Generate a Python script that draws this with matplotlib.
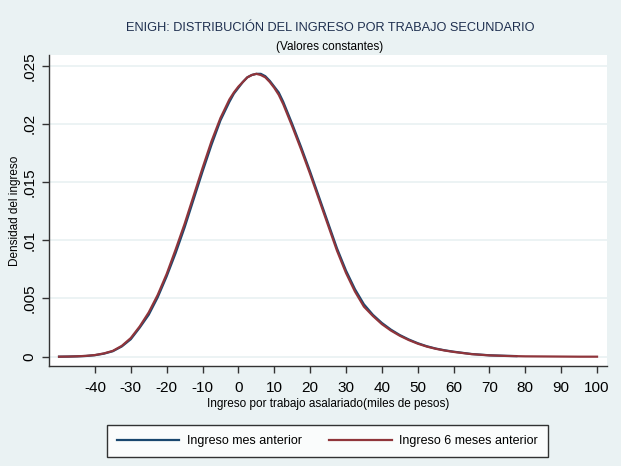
import matplotlib
matplotlib.use("Agg")
import matplotlib.pyplot as plt

plt.rcParams['font.family'] = ['Liberation Sans', 'DejaVu Sans']

# ---- data ----
x_red = [-50, -47.5, -45, -42.5, -40, -37.5, -35, -32.5, -30, -27.5, -25, -22.5, -20,
         -17.5, -15, -12.5, -10, -7.5, -5, -2.5, -1.25, 0, 1.25, 2.5, 3.75, 5, 6.25,
         7.5, 8.75, 10, 11.25, 12.5, 15, 17.5,
         20, 22.5, 25, 27.5, 30, 32.5, 35, 37.5, 40, 42.5, 45, 47.5, 50, 52.5, 55,
         57.5, 60, 65, 70, 75, 80, 85, 90, 95, 100]
y_red = [0.0, 0.00001, 0.00003, 0.00007, 0.00014, 0.00028, 0.0005, 0.00093, 0.0016,
         0.0026, 0.0038, 0.0053, 0.0071, 0.0092, 0.0114, 0.0138, 0.0162, 0.0185,
         0.0205, 0.0221, 0.0227, 0.0232, 0.0236, 0.0240, 0.0242, 0.0243, 0.0242,
         0.0240, 0.0236, 0.0231, 0.0225, 0.0217, 0.0198,
         0.0178, 0.0157, 0.0135, 0.0113, 0.0091, 0.0072, 0.0056, 0.0043, 0.0035,
         0.0028, 0.00225, 0.0018, 0.00143, 0.00112, 0.00087, 0.00068, 0.00053, 0.00041,
         0.00022, 0.00011, 0.00006, 0.00003, 0.00002, 0.00001, 0.0, 0.0]

x_blue = [-50, -47.5, -45, -42.5, -40, -37.5, -35, -32.5, -30, -27.5, -25, -22.5, -20,
          -17.5, -15, -12.5, -10, -7.5, -5, -2.5, -1.25, 0, 1.25, 2.5, 3.75, 5, 6.25,
          7.5, 8.75, 10, 11.25, 12.5, 15, 17.5,
          20, 22.5, 25, 27.5, 30, 32.5, 35, 37.5, 40, 42.5, 45, 47.5, 50, 52.5, 55,
          57.5, 60, 65, 70, 75, 77.5]
y_blue = [0.0, 0.00001, 0.00003, 0.00006, 0.00013, 0.00026, 0.00047, 0.00088, 0.0015,
          0.0025, 0.0036, 0.0051, 0.0069, 0.0089, 0.0111, 0.0135, 0.0159, 0.0182,
          0.0203, 0.0219, 0.0226, 0.0231, 0.0236, 0.0240, 0.0242, 0.0243, 0.0243,
          0.0241, 0.0237, 0.0232, 0.0227, 0.0219, 0.0200,
          0.0180, 0.0159, 0.0137, 0.0115, 0.0093, 0.0074, 0.0058, 0.0045, 0.0036,
          0.0029, 0.00233, 0.00186, 0.00148, 0.00116, 0.0009, 0.0007, 0.00055, 0.00043,
          0.00023, 0.00012, 0.00007, 0.00005]

x_ticks = [-40, -30, -20, -10, 0, 10, 20, 30, 40, 50, 60, 70, 80, 90, 100]
y_ticks = [0, 0.005, 0.01, 0.015, 0.02, 0.025]
y_ticklabels = ["0", ".005", ".01", ".015", ".02", ".025"]

series_labels = ["Ingreso mes anterior", "Ingreso 6 meses anterior"]
title = "ENIGH: DISTRIBUCIÓN DEL INGRESO POR TRABAJO SECUNDARIO"
subtitle = "(Valores constantes)"
xlabel = "Ingreso por trabajo asalariado(miles de pesos)"
ylabel = "Densidad del ingreso"

# ---- style ----
BG = "#EAF2F3"
BLUE = "#1A476F"
RED = "#90353B"
AXC = "#333333"

fig = plt.figure(figsize=(6.21, 4.66), dpi=100, facecolor=BG)
ax = fig.add_axes([0.0789, 0.2146, 0.977 - 0.0789, 0.882 - 0.2146])
ax.set_facecolor("white")

for yt in y_ticks:
    ax.axhline(yt, color=BG, lw=1.3, zorder=0)

l1, = ax.plot(x_blue, y_blue, color=BLUE, lw=1.6, zorder=3, solid_joinstyle='round')
l2, = ax.plot(x_red, y_red, color=RED, lw=1.6, zorder=4, solid_joinstyle='round')

ax.set_xlim(-52.8, 102.7)
ax.set_ylim(-0.0008, 0.02592)

ax.set_xticks(x_ticks)
ax.set_xticklabels([str(t) for t in x_ticks], fontsize=11)
ax.set_yticks(y_ticks)
ax.set_yticklabels(y_ticklabels, fontsize=11, rotation=90, va='center')

for s in ["top", "right"]:
    ax.spines[s].set_visible(False)
for s in ["left", "bottom"]:
    ax.spines[s].set_color(AXC)
    ax.spines[s].set_linewidth(1.0)
ax.tick_params(axis='both', direction='out', length=5, width=1.0, color=AXC,
               labelcolor='black')
ax.tick_params(axis='x', pad=6)
ax.tick_params(axis='y', pad=4)

ax.set_xlabel(xlabel, fontsize=8.5, labelpad=2)
ax.set_ylabel(ylabel, fontsize=8.5, labelpad=1)

fig.text(0.531, 1 - 28 / 466, title, ha='center', va='center', fontsize=9.2,
         color="#1E2F4F")
fig.text(0.531, 1 - 47 / 466, subtitle, ha='center', va='center', fontsize=8.5,
         color="black")

leg = fig.legend([l1, l2], series_labels, ncol=2, loc='center',
                 bbox_to_anchor=(327.5 / 621, 1 - 441 / 466), fontsize=9,
                 frameon=True, fancybox=False, edgecolor='black',
                 handlelength=5.0, handletextpad=0.6, columnspacing=2.2,
                 borderpad=0.8)
leg.get_frame().set_linewidth(1.0)
leg.get_frame().set_facecolor('white')

fig.savefig("out.png", dpi=100, facecolor=BG)
